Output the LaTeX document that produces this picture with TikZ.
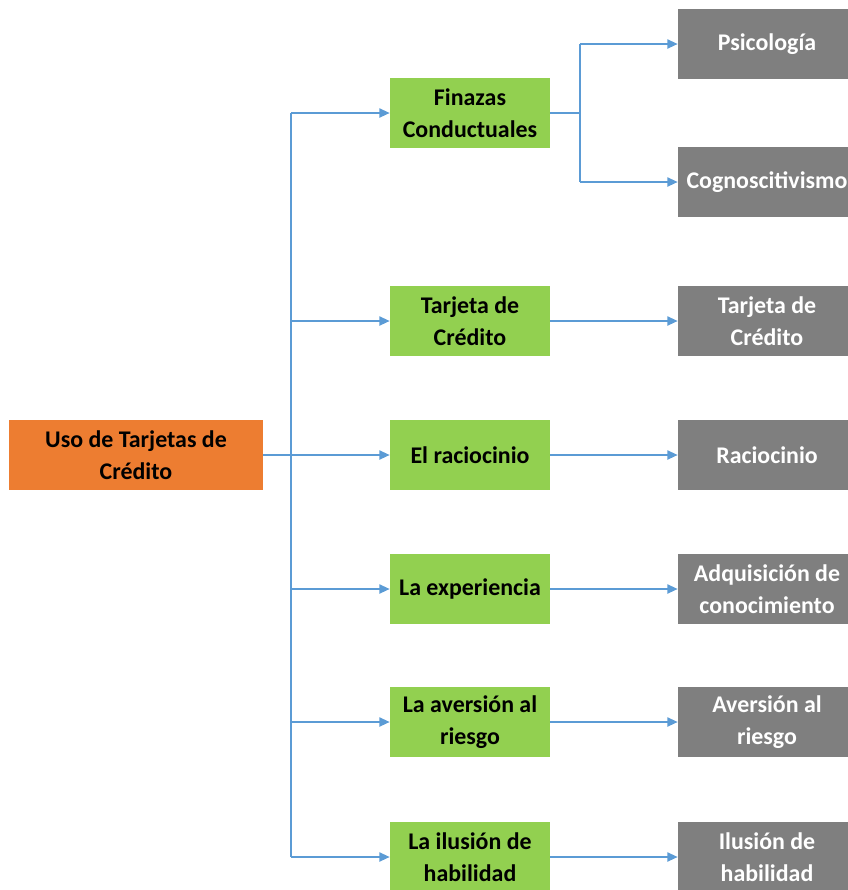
\documentclass[tikz,border=0pt]{standalone}
\usepackage{fontspec}
\setmainfont{Carlito}
\usetikzlibrary{arrows.meta, positioning}

\definecolor{rootorange}{HTML}{ED7D31}
\definecolor{leafgreen}{HTML}{92D050}
\definecolor{topicgray}{HTML}{7F7F7F}
\definecolor{linkblue}{HTML}{5B9BD5}

\begin{document}
\begin{tikzpicture}[
    x=0.025cm, y=-0.025cm,
    rootbox/.style={fill=rootorange, minimum width=6.35cm, minimum height=1.725cm, align=center, inner sep=0pt, font=\fontsize{17}{22.5}\selectfont\bfseries},
    greenbox/.style={fill=leafgreen, minimum width=4cm, minimum height=1.75cm, align=center, inner sep=0pt, font=\fontsize{17}{22.5}\selectfont\bfseries},
    graybox/.style={fill=topicgray, text=white, minimum width=4.45cm, minimum height=1.75cm, align=center, inner sep=0pt, font=\fontsize{17}{22.5}\selectfont\bfseries},
    line/.style={draw=linkblue, line width=1.2pt},
    arrow/.style={line, -{Triangle[length=2.6mm, width=2.3mm]}}
]

% Page frame
\useasboundingbox (0,0) rectangle (848,890);
\clip (0,0) rectangle (848,890);

% Root
\node[rootbox] (root) at (136,455) {Uso de Tarjetas de\\Crédito};

% Middle level
\node[greenbox] (g1) at (470,113) {Finazas\\Conductuales};
\node[greenbox] (g2) at (470,321) {Tarjeta de\\Crédito};
\node[greenbox] (g3) at (470,455) {El raciocinio};
\node[greenbox] (g4) at (470,589) {La experiencia};
\node[greenbox] (g5) at (470,722) {La aversión al\\riesgo};
\node[greenbox] (g6) at (470,857) {La ilusión de\\habilidad};

% Right level
\node[graybox] (p1) at (767,44) {Psicología};
\node[graybox] (p2) at (767,182) {Cognoscitivismo};
\node[graybox] (p3) at (767,321) {Tarjeta de\\Crédito};
\node[graybox] (p4) at (767,455) {Raciocinio};
\node[graybox] (p5) at (767,589) {Adquisición de\\conocimiento};
\node[graybox] (p6) at (767,722) {Aversión al\\riesgo};
\node[graybox] (p7) at (767,857) {Ilusión de\\habilidad};

% Branch points
\coordinate (trunk) at (291,455);
\coordinate (fork) at (580,113);

% Connections - Root
\draw[line] (root.east) -- (trunk);
\draw[line] (g1.west -| trunk) -- (g6.west -| trunk);
\foreach \i in {1,...,6}
    \draw[arrow] (g\i.west -| trunk) -- (g\i.west);

% Connections - Finazas
\draw[line] (g1.east) -- (fork);
\draw[line] (p1.west -| fork) -- (p2.west -| fork);
\draw[arrow] (p1.west -| fork) -- (p1.west);
\draw[arrow] (p2.west -| fork) -- (p2.west);

% Connections - others
\foreach \i/\j in {2/3,3/4,4/5,5/6,6/7}
    \draw[arrow] (g\i.east) -- (p\j.west);

\end{tikzpicture}
\end{document}
